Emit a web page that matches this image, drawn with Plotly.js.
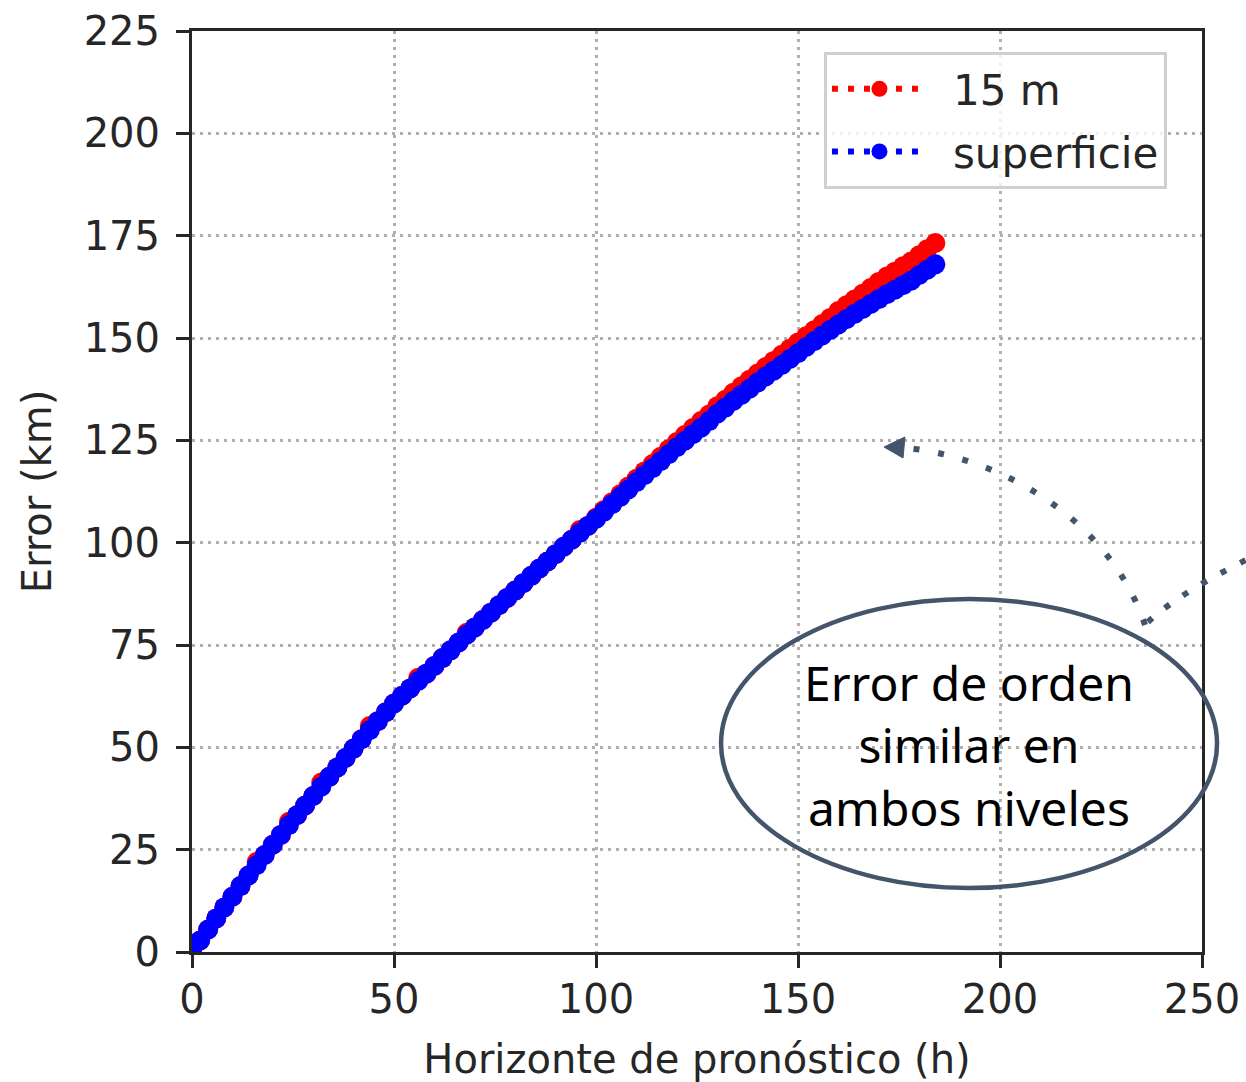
<!DOCTYPE html>
<html>
<head>
<meta charset="utf-8">
<script src="https://cdn.plot.ly/plotly-3.0.1.min.js"></script>
<style>html,body{margin:0;padding:0;background:#fff;}#chart{width:1246px;height:1082px;}</style>
</head>
<body>
<div id="chart"></div>
<script>
// Forecast horizon (h)
var hours = [0,2,4,6,8,10,12,14,16,18,20,22,24,26,28,30,32,34,36,38,40,42,44,46,48,50,52,54,56,58,60,62,64,66,68,70,72,74,76,78,80,82,84,86,88,90,92,94,96,98,100,102,104,106,108,110,112,114,116,118,120,122,124,126,128,130,132,134,136,138,140,142,144,146,148,150,152,154,156,158,160,162,164,166,168,170,172,174,176,178,180,182,184];
// Error (km) at 15 m
var err15m = [0,2.8,5.5,8.2,10.9,13.5,16.1,18.7,22.0,23.7,26.2,28.6,31.8,33.4,35.8,38.1,41.4,42.8,45.1,47.4,49.7,52.0,55.2,56.4,58.6,60.7,62.6,64.4,67.0,68.0,69.9,71.8,73.7,75.6,78.0,79.3,81.1,82.9,84.7,86.5,88.3,90.1,91.9,93.7,95.4,97.2,99.0,100.7,103.1,104.1,106.1,108.0,109.9,111.8,113.7,115.6,117.4,119.2,121.0,122.8,124.6,126.3,128.0,129.7,131.3,133.3,134.9,136.6,138.2,139.8,141.3,142.9,144.4,145.9,147.4,148.9,150.4,151.9,153.4,154.9,156.6,158.0,159.4,160.8,162.2,163.7,165.0,166.2,167.5,168.7,170.2,171.7,173.2];
// Error (km) at surface
var errSup = [0,2.8,5.5,8.2,10.9,13.5,16.1,18.7,21.2,23.7,26.2,28.6,31.0,33.4,35.8,38.1,40.4,42.8,45.1,47.4,49.7,52.0,54.2,56.4,58.6,60.7,62.6,64.4,66.2,68.0,69.9,71.8,73.7,75.6,77.5,79.3,81.1,82.9,84.7,86.5,88.3,90.1,91.9,93.7,95.4,97.2,99.0,100.7,102.4,104.1,105.8,107.6,109.4,111.2,113.0,114.8,116.5,118.2,119.9,121.6,123.3,124.9,126.5,128.1,129.7,131.5,133.0,134.6,136.1,137.6,139.1,140.6,142.0,143.4,144.9,146.3,147.8,149.2,150.6,152.0,153.3,154.6,155.9,157.1,158.3,159.5,160.7,161.8,162.9,164.0,165.4,166.7,168.0];
var seriesNames = ["15 m", "superficie"];
var xTicks = [0,50,100,150,200,250];
var yTicks = [0,25,50,75,100,125,150,175,200,225];
var noteLines = ["Error de orden", "similar en", "ambos niveles"];

var tickFont = {family: "DejaVu Sans", size: 40, color: "#262626"};
var annColor = "#44546a";
var LEAD = "\u2002"; // visual gap between legend symbol and label

var traces = [
  {x: hours, y: err15m, name: LEAD + seriesNames[0], legendgroup: "a", type: "scatter", mode: "lines+markers",
   line: {color: "#ff0000", width: 6, dash: "6px,10px"},
   marker: {color: "#ff0000", size: 20}},
  {x: hours, y: errSup, name: LEAD + seriesNames[1], legendgroup: "b", type: "scatter", mode: "lines+markers",
   line: {color: "#0000ff", width: 6, dash: "6px,10px"},
   marker: {color: "#0000ff", size: 20}}
];

function axisBase() {
  return {
    showline: true, linecolor: "#262626", linewidth: 3, mirror: true,
    ticks: "outside", ticklen: 13, tickwidth: 3, tickcolor: "#262626",
    showgrid: true, gridcolor: "#b0b0b0", gridwidth: 3, griddash: "3px,5px",
    zeroline: false, tickfont: tickFont
  };
}
var xa = axisBase();
xa.range = [0, 250]; xa.tickvals = xTicks; xa.ticktext = xTicks.map(String);
xa.ticklabelstandoff = -3;
xa.title = {text: "Horizonte de pronóstico (h)", font: {family: "DejaVu Sans", size: 40, color: "#262626"}, standoff: 32};
var ya = axisBase();
ya.range = [0, 225]; ya.tickvals = yTicks; ya.ticktext = yTicks.map(String);
ya.ticklabelstandoff = 8;
ya.title = {text: "Error (km)", font: {family: "DejaVu Sans", size: 40, color: "#262626"}, standoff: 20};

var layout = {
  width: 1246, height: 1082,
  margin: {l: 192, r: 44, t: 31, b: 130, pad: 0},
  paper_bgcolor: "#ffffff", plot_bgcolor: "#ffffff",
  xaxis: xa, yaxis: ya,
  showlegend: true,
  legend: {x: 0.6257, y: 0.9772, xanchor: "left", yanchor: "top",
    bgcolor: "rgba(255,255,255,0.8)", bordercolor: "#d0d0d0", borderwidth: 3,
    font: {family: "DejaVu Sans", size: 42, color: "#262626"},
    itemwidth: 95, tracegroupgap: 5},
  shapes: [
    {type: "circle", xref: "paper", yref: "paper", x0: 0.5238, x1: 1.0149, y0: 0.0695, y1: 0.3833,
     line: {color: annColor, width: 4.5}, fillcolor: "rgba(0,0,0,0)", layer: "above"},
    {type: "path", xref: "paper", yref: "paper",
     path: "M0.9436,0.3550 C0.9089,0.4691 0.8000,0.5396 0.6990,0.5483",
     line: {color: annColor, width: 6, dash: "6px,19px"}, layer: "above"},
    {type: "path", xref: "paper", yref: "paper",
     path: "M0.9465,0.3583 Q0.9782,0.3909 1.0594,0.4343",
     line: {color: annColor, width: 6, dash: "6px,16px"}, layer: "above"},
    {type: "path", xref: "paper", yref: "paper",
     path: "M0.6851,0.5483 L0.7059,0.5592 L0.7040,0.5364 Z",
     fillcolor: annColor, line: {color: annColor, width: 1}, layer: "above"}
  ],
  annotations: [
    {xref: "paper", yref: "paper", x: 0.7693, y: 0.2248, xanchor: "center", yanchor: "middle",
     text: noteLines.join("<br>"), showarrow: false, align: "center",
     font: {family: "Noto Sans", size: 48, color: "#000000"}}
  ]
};

Plotly.newPlot("chart", traces, layout, {displayModeBar: false, staticPlot: true});
</script>
</body>
</html>
